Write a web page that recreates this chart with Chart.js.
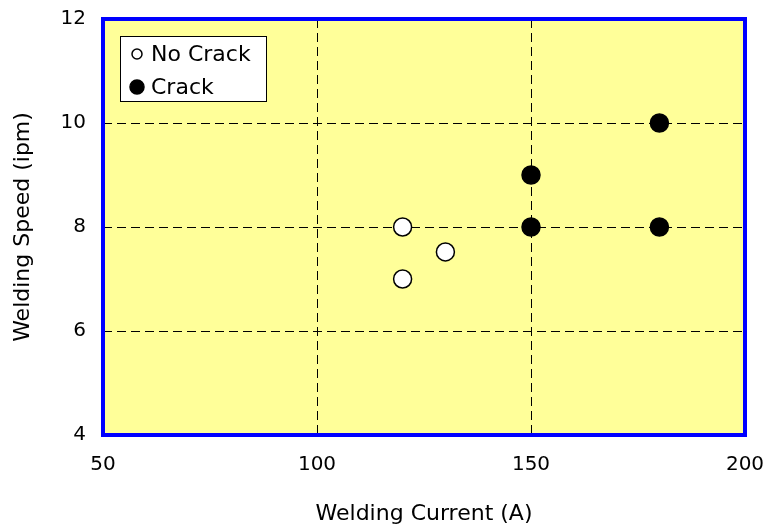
<!DOCTYPE html>
<html>
<head>
<meta charset="utf-8">
<script src="https://cdn.jsdelivr.net/npm/chart.js@4.4.1/dist/chart.umd.min.js"></script>
<style>
  html, body { margin: 0; padding: 0; background: #fff; }
  #wrap { width: 769px; height: 529px; }
</style>
</head>
<body>
<div id="wrap"><canvas id="myChart" width="769" height="529"></canvas></div>
<script>
// welding trials
var noCrackCurrent = [120, 120, 130];
var noCrackSpeed = [8, 7, 7.52];
var crackCurrent = [150, 150, 180, 180];
var crackSpeed = [9, 8, 10, 8];
var xTicks = [50, 100, 150, 200];
var yTicks = [4, 6, 8, 10, 12];

function toPoints(xs, ys) {
    return xs.map(function (x, i) { return {x: x, y: ys[i]}; });
}

var FONT = "'DejaVu Sans', Verdana, sans-serif";

// no extra room for overhanging tick labels, the frame sits where the reference has it
function noOverhang(s) {
    s.paddingTop = 0;
    s.paddingBottom = 0;
    s.paddingLeft = 0;
    s.paddingRight = 0;
}

// yellow plot area with blue frame, legend box in the top left corner
var plotFrame = {
    id: 'plotFrame',
    beforeDraw: function (chart) {
        var a = chart.chartArea, c = chart.ctx;
        c.save();
        c.fillStyle = '#FFFF99';
        c.fillRect(a.left, a.top, a.right - a.left, a.bottom - a.top);
        c.restore();
    },
    beforeDatasetsDraw: function (chart) {
        var a = chart.chartArea, c = chart.ctx;
        c.save();
        c.strokeStyle = '#0000FF';
        c.lineWidth = 4;
        c.strokeRect(a.left, a.top, a.right - a.left, a.bottom - a.top);
        c.restore();
    },
    afterDatasetsDraw: function (chart) {
        var a = chart.chartArea, c = chart.ctx;
        var bx = a.left + 17, by = a.top + 17, bw = 146, bh = 65;
        c.save();
        c.fillStyle = '#fff';
        c.fillRect(bx, by, bw, bh);
        c.strokeStyle = '#000';
        c.lineWidth = 1;
        c.strokeRect(bx + 0.5, by + 0.5, bw, bh);
        c.font = '22px ' + FONT;
        c.textBaseline = 'middle';
        chart.data.datasets.forEach(function (ds, i) {
            var cy = by + 18 + i * 33;
            c.beginPath();
            c.arc(bx + 17, cy, i === 0 ? 5 : 7, 0, Math.PI * 2);
            c.fillStyle = ds.backgroundColor;
            c.fill();
            c.lineWidth = 1.5;
            c.strokeStyle = '#000';
            c.stroke();
            c.fillStyle = '#000';
            c.fillText(ds.label, bx + 31, cy + 1);
        });
        c.restore();
    }
};

var ctx = document.getElementById('myChart');
var myChart = new Chart(ctx, {
    type: 'scatter',
    data: {
        datasets: [{
            label: 'No Crack',
            data: toPoints(noCrackCurrent, noCrackSpeed),
            backgroundColor: '#FFFFFF',
            borderColor: '#000000',
            borderWidth: 1.5,
            pointRadius: 9,
            pointHoverRadius: 9
        }, {
            label: 'Crack',
            data: toPoints(crackCurrent, crackSpeed),
            backgroundColor: '#000000',
            borderColor: '#000000',
            borderWidth: 1.5,
            pointRadius: 9,
            pointHoverRadius: 9
        }]
    },
    plugins: [plotFrame],
    options: {
        responsive: false,
        animation: false,
        layout: { padding: { left: 0, top: 19, right: 24, bottom: 0 } },
        plugins: {
            legend: { display: false },
            tooltip: { enabled: false }
        },
        scales: {
            x: {
                type: 'linear',
                min: 50,
                max: 200,
                afterFit: function (s) { s.height = 94; noOverhang(s); },
                afterBuildTicks: function (s) { s.ticks = xTicks.map(function (v) { return {value: v}; }); },
                grid: {
                    color: '#000',
                    lineWidth: 1,
                    drawTicks: false
                },
                border: { display: false, dash: [9, 5] },
                ticks: {
                    padding: 18,
                    color: '#000',
                    font: { family: FONT, size: 20 }
                },
                title: {
                    display: true,
                    text: 'Welding Current (A)',
                    color: '#000',
                    font: { family: FONT, size: 22 },
                    padding: { top: 0, bottom: 2 }
                }
            },
            y: {
                type: 'linear',
                min: 4,
                max: 12,
                afterFit: function (s) { s.width = 103; noOverhang(s); },
                afterBuildTicks: function (s) { s.ticks = yTicks.map(function (v) { return {value: v}; }); },
                grid: {
                    color: '#000',
                    lineWidth: 1,
                    drawTicks: false
                },
                border: { display: false, dash: [9, 5] },
                ticks: {
                    padding: 17,
                    color: '#000',
                    font: { family: FONT, size: 20 }
                },
                title: {
                    display: true,
                    text: 'Welding Speed (ipm)',
                    color: '#000',
                    font: { family: FONT, size: 22 },
                    padding: { top: 10, bottom: 0 }
                }
            }
        }
    }
});
</script>
</body>
</html>
